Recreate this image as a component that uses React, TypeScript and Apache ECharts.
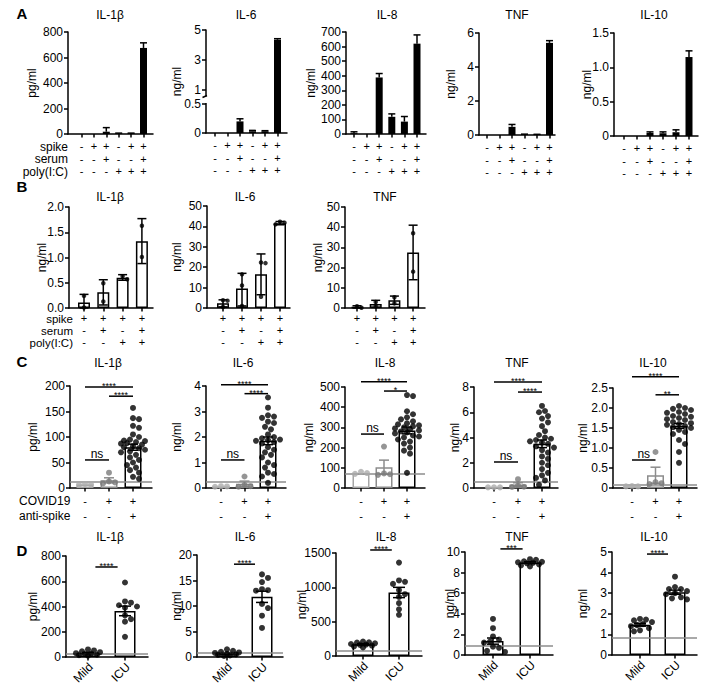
import React, { useEffect, useRef } from 'react';
import * as echarts from 'echarts';

const FONT = '"Liberation Sans", Arial, Helvetica, sans-serif';
const BLACK = '#000000';

// ---------------- Row A data ----------------
const A_TITLES = ['IL-1β', 'IL-6', 'IL-8', 'TNF', 'IL-10'];
const A_UNITS = ['pg/ml', 'ng/ml', 'ng/ml', 'ng/ml', 'ng/ml'];
const A_ROW_LABELS = ['spike', 'serum', 'poly(I:C)'];
const A_SPIKE = ['-', '+', '+', '-', '+', '+'];
const A_SERUM = ['-', '-', '+', '-', '-', '+'];
const A_POLY = ['-', '-', '-', '+', '+', '+'];
const A_IL1B = [0, 0, 18, 3, 3, 675];
const A_IL1B_ERR = [0, 0, 50, 7, 7, 715];
const A_IL6 = [0, 0, 0.2, 0.03, 0.03, 4.35];
const A_IL6_ERR = [0, 0, 0.245, 0.045, 0.04, 4.42];
const A_IL8 = [5, 0, 388, 118, 85, 620];
const A_IL8_ERR = [15, 0, 415, 138, 120, 680];
const A_TNF = [0, 0, 0.48, 0.04, 0.03, 5.42];
const A_TNF_ERR = [0, 0, 0.62, 0.05, 0.04, 5.55];
const A_IL10 = [0, 0, 0.045, 0.04, 0.055, 1.15];
const A_IL10_ERR = [0, 0, 0.06, 0.06, 0.09, 1.24];
const A_YMAX = [800, 5, 700, 6, 1.5];
const A_YSTEP = [200, 2, 100, 2, 0.5];
const A_IL6_TICKS = [0, 0.5, 1, 3, 5];

// ---------------- Row B data ----------------
const B_TITLES = ['IL-1β', 'IL-6', 'TNF'];
const B_UNITS = ['ng/ml', 'ng/ml', 'ng/ml'];
const B_ROW_LABELS = ['spike', 'serum', 'poly(I:C)'];
const B_SPIKE = ['+', '+', '+', '+'];
const B_SERUM = ['-', '+', '-', '+'];
const B_POLY = ['-', '-', '+', '+'];
const B_IL1B = [0.11, 0.31, 0.6, 1.32];
const B_IL1B_LO = [0, 0.06, 0.55, 0.88];
const B_IL1B_HI = [0.27, 0.56, 0.66, 1.77];
const B_IL1B_PTS = [[0.24, 0.01], [0.49, 0.13], [0.63, 0.57], [1.63, 1.01]];
const B_IL6 = [2.3, 9.5, 16.5, 41.5];
const B_IL6_LO = [0.5, 1.0, 6.5, 40.8];
const B_IL6_HI = [4.0, 17.0, 26.5, 42.4];
const B_IL6_PTS = [[3.8, 3.6, 0.5], [16.5, 11, 1], [22, 22.3, 5.5], [42.3, 41.8, 41]];
const B_TNF = [0.5, 2.0, 3.8, 27.5];
const B_TNF_LO = [0, 0.3, 1.8, 14];
const B_TNF_HI = [1.1, 3.8, 5.9, 41];
const B_TNF_PTS = [[0.9, 0.1], [3.0, 0.9], [5.3, 2.3], [37, 18]];
const B_YMAX = [2, 50, 50];
const B_YSTEP = [0.5, 10, 10];

// ---------------- Row C data ----------------
const C_TITLES = ['IL-1β', 'IL-6', 'IL-8', 'TNF', 'IL-10'];
const C_UNITS = ['pg/ml', 'ng/ml', 'ng/ml', 'ng/ml', 'ng/ml'];
const C_ROW_LABELS = ['COVID19', 'anti-spike'];
const C_COVID = ['-', '+', '+'];
const C_ANTISPIKE = ['-', '-', '+'];
const C_PAIRS = [[0, 2], [1, 2], [0, 1]];
const C_YMAX = [200, 4, 500, 8, 2.5];
const C_YSTEP = [50, 1, 100, 2, 0.5];

const C_IL1B_PTS = [
  [6, 7, 8],
  [30, 13, 11, 9],
  [157, 137, 135, 122, 118, 105, 100, 95, 93, 92, 90, 88, 87, 85, 82, 80, 78, 75, 72, 70, 65, 60, 55, 50, 45, 40, 35, 30, 22, 18],
];
const C_IL1B_MEAN = [7, 15, 80];
const C_IL1B_SEM = [0, 5, 6];
const C_IL1B_LIMIT = 12;
const C_IL1B_SIG = ['****', '****', 'ns'];
const C_IL1B_SIG_Y = [198, 180, 55];

const C_IL6_PTS = [
  [0.05, 0.06, 0.07],
  [0.45, 0.12, 0.07, 0.05],
  [3.55, 3.15, 2.85, 2.8, 2.75, 2.6, 2.55, 2.4, 2.3, 2.1, 2.0, 1.95, 1.9, 1.88, 1.85, 1.8, 1.75, 1.6, 1.5, 1.4, 1.3, 1.2, 1.0, 0.9, 0.8, 0.6, 0.55, 0.45, 0.2],
];
const C_IL6_MEAN = [0.06, 0.17, 1.85];
const C_IL6_SEM = [0, 0.1, 0.15];
const C_IL6_LIMIT = 0.23;
const C_IL6_SIG = ['****', '****', 'ns'];
const C_IL6_SIG_Y = [4.05, 3.7, 1.1];

const C_IL8_PTS = [
  [80, 74, 70],
  [205, 68, 65, 72],
  [460, 455, 380, 365, 350, 340, 330, 320, 315, 310, 305, 300, 295, 290, 285, 280, 275, 270, 260, 255, 250, 240, 230, 220, 200, 185, 170, 75],
];
const C_IL8_MEAN = [73, 103, 285];
const C_IL8_SEM = [0, 35, 17];
const C_IL8_LIMIT = 72;
const C_IL8_SIG = ['****', '*', 'ns'];
const C_IL8_SIG_Y = [526, 480, 267];

const C_TNF_PTS = [
  [0.05, 0.05, 0.06],
  [0.7, 0.2, 0.1, 0.08],
  [6.5, 6.1, 6.0, 5.7, 5.5, 5.2, 4.9, 4.5, 4.2, 4.0, 3.9, 3.8, 3.7, 3.6, 3.5, 3.3, 3.2, 3.0, 2.8, 2.5, 2.3, 2.0, 1.8, 1.5, 1.2, 1.0, 0.8, 0.6, 0.25],
];
const C_TNF_MEAN = [0.05, 0.27, 3.5];
const C_TNF_SEM = [0, 0.15, 0.3];
const C_TNF_LIMIT = 0.47;
const C_TNF_SIG = ['****', '****', 'ns'];
const C_TNF_SIG_Y = [8.4, 7.6, 2.06];

const C_IL10_PTS = [
  [0.04, 0.04, 0.05],
  [0.9, 0.15, 0.12, 0.1],
  [2.05, 2.0, 1.98, 1.95, 1.9, 1.88, 1.85, 1.8, 1.78, 1.75, 1.72, 1.7, 1.65, 1.62, 1.6, 1.58, 1.55, 1.52, 1.5, 1.45, 1.4, 1.35, 1.2, 1.1, 0.9, 0.63],
];
const C_IL10_MEAN = [0.04, 0.32, 1.55];
const C_IL10_SEM = [0, 0.2, 0.06];
const C_IL10_LIMIT = 0.07;
const C_IL10_SIG = ['****', '**', 'ns'];
const C_IL10_SIG_Y = [2.78, 2.33, 0.7];

// ---------------- Row D data ----------------
const D_TITLES = ['IL-1β', 'IL-6', 'IL-8', 'TNF', 'IL-10'];
const D_UNITS = ['pg/ml', 'ng/ml', 'ng/ml', 'ng/ml', 'ng/ml'];
const D_GROUPS = ['Mild', 'ICU'];
const D_YMAX = [800, 20, 1500, 10, 5];
const D_YSTEP = [200, 5, 500, 2, 1];

const D_IL1B_PTS = [[60, 52, 45, 38, 30, 25, 22, 18, 15, 10], [590, 440, 430, 410, 400, 390, 330, 300, 280, 160]];
const D_IL1B_MEAN = [31, 365];
const D_IL1B_SEM = [5, 38];
const D_IL1B_LIMIT = 25;
const D_IL1B_SIG = '****';
const D_IL1B_SIG_Y = 713;

const D_IL6_PTS = [[1.5, 1.2, 1.0, 0.9, 0.8, 0.6, 0.5, 0.4, 0.3, 0.2], [16.2, 15.5, 14.7, 13.3, 13.1, 13.0, 10.4, 9.6, 8.1, 5.7]];
const D_IL6_MEAN = [0.74, 11.8];
const D_IL6_SEM = [0.13, 1.1];
const D_IL6_LIMIT = 0.8;
const D_IL6_SIG = '****';
const D_IL6_SIG_Y = 18.2;

const D_IL8_PTS = [[210, 200, 195, 185, 175, 165, 160, 150, 140, 125], [1360, 1100, 1080, 1050, 960, 900, 860, 770, 680, 600]];
const D_IL8_MEAN = [170, 925];
const D_IL8_SEM = [9, 75];
const D_IL8_LIMIT = 80;
const D_IL8_SIG = '****';
const D_IL8_SIG_Y = 1544;

const D_TNF_PTS = [[3.5, 2.6, 1.8, 1.5, 1.3, 1.2, 0.8, 0.7, 0.4, 0.3], [9.3, 9.25, 9.1, 9.05, 9.0, 8.95, 8.9, 8.8, 8.7, 8.6]];
const D_TNF_MEAN = [1.35, 8.97];
const D_TNF_SEM = [0.3, 0.08];
const D_TNF_LIMIT = 0.9;
const D_TNF_SIG = '***';
const D_TNF_SIG_Y = 10.3;

const D_IL10_PTS = [[1.75, 1.72, 1.68, 1.6, 1.5, 1.45, 1.4, 1.3, 1.2, 1.15], [3.8, 3.3, 3.2, 3.2, 3.1, 3.0, 2.95, 2.8, 2.75, 2.7]];
const D_IL10_MEAN = [1.47, 3.05];
const D_IL10_SEM = [0.07, 0.1];
const D_IL10_LIMIT = 0.85;
const D_IL10_SIG = '****';
const D_IL10_SIG_Y = 4.9;

// ---------------- Layout (pixels) ----------------
const LAYOUT_A = [
  { left: 68, right: 153, top: 32, bottom: 134, p0: 81.5, step: 12.4, titleX: 110, nameX: 32 },
  { left: 206, right: 287, top: 30, bottom: 133, p0: 215, step: 12.5, titleX: 246, nameX: 177 },
  { left: 346, right: 426, top: 32, bottom: 134, p0: 354, step: 12.6, titleX: 387, nameX: 311 },
  { left: 479, right: 555, top: 33, bottom: 135, p0: 487, step: 12.5, titleX: 517, nameX: 451 },
  { left: 614, right: 698, top: 33, bottom: 136, p0: 624, step: 13, titleX: 654, nameX: 587 },
];
const LAYOUT_B = [
  { left: 69, right: 153, top: 207, bottom: 308, p0: 84, step: 19.3, titleX: 110, nameX: 42 },
  { left: 207, right: 290, top: 206, bottom: 308, p0: 223, step: 19, titleX: 245, nameX: 177 },
  { left: 345, right: 425, top: 207, bottom: 308, p0: 357, step: 18.7, titleX: 385, nameX: 318 },
];
const LAYOUT_C = [
  { left: 70, right: 152, top: 386, bottom: 488, p0: 85, step: 24, titleX: 108, nameX: 33 },
  { left: 206, right: 286, top: 386, bottom: 488, p0: 221, step: 23.5, titleX: 243, nameX: 177 },
  { left: 345, right: 425, top: 387, bottom: 488, p0: 361, step: 23, titleX: 385, nameX: 309 },
  { left: 474, right: 558, top: 387, bottom: 488, p0: 494, step: 24, titleX: 517, nameX: 455 },
  { left: 613, right: 697, top: 388, bottom: 488, p0: 632, step: 23.5, titleX: 653, nameX: 583 },
];
const LAYOUT_D = [
  { left: 66, right: 148, top: 556, bottom: 657, p0: 88, step: 37, titleX: 110, nameX: 33 },
  { left: 197, right: 283, top: 555, bottom: 657, p0: 227, step: 35, titleX: 245, nameX: 177 },
  { left: 336, right: 422, top: 553, bottom: 656, p0: 363, step: 36, titleX: 386, nameX: 302 },
  { left: 465, right: 553, top: 552, bottom: 655, p0: 493, step: 37, titleX: 517, nameX: 450 },
  { left: 612, right: 697, top: 552, bottom: 655, p0: 640, step: 35, titleX: 654, nameX: 583 },
];
const TITLE_Y = { A: 15, B: 197, C: 363, D: 537 };
const TABLE_FONT = 11;

// broken axis mapping for IL-6 (row A): pixels above the x axis
const brokenT = (v: number) => (v <= 0.5 ? v * 58 : v < 1 ? 29 + (v - 0.5) * 28 : 43 + (v - 1) * 15);

function swarm(vals: number[], pyu: number, pxu: number, d: number, maxOff: number): number[] {
  const order = vals.map((_, k) => k).sort((a, b) => vals[b] - vals[a]);
  const placed: { x: number; y: number }[] = [];
  const off = new Array(vals.length).fill(0);
  const cands: number[] = [0];
  for (let k = 1; k * d * 0.5 <= maxOff + 1e-9; k++) cands.push(k * d * 0.5, -k * d * 0.5);
  order.forEach((idx) => {
    const y = vals[idx] * pyu;
    let best = 0;
    let bestScore = -Infinity;
    for (const c of cands) {
      let minD = Infinity;
      for (const p of placed) minD = Math.min(minD, Math.hypot(p.x - c, p.y - y));
      if (minD >= d * 0.9) { best = c; break; }
      if (minD > bestScore) { bestScore = minD; best = c; }
    }
    placed.push({ x: best, y });
    off[idx] = best / pxu;
  });
  return off;
}

const txt = (s: string, x: number, y: number, size = 12, align = 'center', weight = 'normal', rotation = 0) => ({
  type: 'text', x, y, rotation, silent: true,
  style: { text: s, fill: BLACK, font: `${weight} ${size}px ${FONT}`, align, verticalAlign: 'middle' },
});

const plainNum = (v: number) => String(v);

function buildOption() {
  const grid: any[] = [];
  const xAxis: any[] = [];
  const yAxis: any[] = [];
  const series: any[] = [];
  const graphic: any[] = [];

  const addAxes = (L: any, n: number, yMax: number, yStep: number, unit: string, title: string, titleY: number,
    xFmt: (k: number) => string, xLab: any, yFmt: (v: number) => string = plainNum) => {
    const i = grid.length;
    grid.push({ left: L.left, top: L.top, width: L.right - L.left, height: L.bottom - L.top, containLabel: false, outerBoundsMode: 'none' });
    const last = L.p0 + (n - 1) * L.step;
    const ticks = Array.from({ length: n }, (_, k) => k);
    const xMin = -(L.p0 - L.left) / L.step;
    xAxis.push({
      type: 'value', gridIndex: i, min: xMin, max: n - 1 + (L.right - last) / L.step,
      axisLine: { show: true, onZero: false, lineStyle: { color: BLACK, width: 1.5 } },
      axisTick: { show: true, customValues: ticks, length: 3.5, lineStyle: { color: BLACK, width: 1.5 } },
      axisLabel: { show: true, customValues: ticks, color: BLACK, fontFamily: FONT, fontSize: TABLE_FONT, formatter: (v: number) => xFmt(Math.round(v)), ...xLab },
      splitLine: { show: false },
    });
    yAxis.push({
      type: 'value', gridIndex: i, min: 0, max: yMax, interval: yStep,
      axisLine: { show: true, onZero: false, lineStyle: { color: BLACK, width: 1.5 } },
      axisTick: { show: true, length: 4, lineStyle: { color: BLACK, width: 1.5 } },
      axisLabel: { color: BLACK, fontFamily: FONT, fontSize: 12, margin: 5, formatter: yFmt },
      splitLine: { show: false },
    });
    graphic.push(txt(title, L.titleX, titleY, 12));
    graphic.push(txt(unit, L.nameX, (L.top + L.bottom) / 2, 12, 'center', 'normal', Math.PI / 2));
    return { i, xMin };
  };

  const errSeries = (i: number, items: number[][], colors: string[], capHalf: number, lowCap: boolean, extra: any = {}) => ({
    type: 'custom', xAxisIndex: i, yAxisIndex: i, silent: true, z: 4, data: items,
    renderItem: (params: any, api: any) => {
      const x = api.value(0);
      const a = api.coord([x, api.value(1)]);
      const b = api.coord([x, api.value(2)]);
      const st = { stroke: colors[params.dataIndex] || BLACK, lineWidth: 1.5 };
      const ch: any[] = [
        { type: 'line', shape: { x1: a[0], y1: a[1], x2: b[0], y2: b[1] }, style: st },
        { type: 'line', shape: { x1: b[0] - capHalf, y1: b[1], x2: b[0] + capHalf, y2: b[1] }, style: st },
      ];
      if (lowCap) ch.push({ type: 'line', shape: { x1: a[0] - capHalf, y1: a[1], x2: a[0] + capHalf, y2: a[1] }, style: st });
      return { type: 'group', children: ch };
    },
    ...extra,
  });

  const limitLine = (v: number) => ({
    silent: true, symbol: 'none', label: { show: false },
    lineStyle: { color: '#8c8c8c', width: 1.5, type: 'solid' },
    data: [{ yAxis: v }],
  });

  const bracketSeries = (i: number, items: number[][], labels: string[]) => ({
    type: 'custom', xAxisIndex: i, yAxisIndex: i, silent: true, z: 6, data: items,
    renderItem: (params: any, api: any) => {
      const y = api.value(2);
      const a = api.coord([api.value(0), y]);
      const b = api.coord([api.value(1), y]);
      const lab = labels[params.dataIndex];
      const ns = lab === 'ns';
      return {
        type: 'group',
        children: [
          { type: 'line', shape: { x1: a[0], y1: a[1], x2: b[0], y2: b[1] }, style: { stroke: BLACK, lineWidth: 1.5 } },
          { type: 'text', x: (a[0] + b[0]) / 2, y: a[1] - (ns ? 6 : 1), style: { text: lab, fill: BLACK, font: `normal ${ns ? 12 : 9}px ${FONT}`, align: 'center', verticalAlign: 'middle' } },
        ],
      };
    },
  });

  // ---------- Row A ----------
  const aMeans = [A_IL1B, A_IL6, A_IL8, A_TNF, A_IL10];
  const aErrs = [A_IL1B_ERR, A_IL6_ERR, A_IL8_ERR, A_TNF_ERR, A_IL10_ERR];
  const aFmt = (k: number) => [A_SPIKE[k], A_SERUM[k], A_POLY[k]].join('\n');
  for (let p = 0; p < 5; p++) {
    const L = LAYOUT_A[p];
    const broken = p === 1;
    const tf = broken ? brokenT : (v: number) => v;
    const yFmt = p === 4 ? (v: number) => (v === 0 ? '0' : v.toFixed(1)) : undefined;
    const { i, xMin } = addAxes(L, 6, A_YMAX[p], A_YSTEP[p], A_UNITS[p], A_TITLES[p], TITLE_Y.A, aFmt, { lineHeight: 12.5, margin: 6 }, yFmt);
    if (broken) {
      const ya = yAxis[i];
      const tv = A_IL6_TICKS.map(brokenT);
      delete ya.interval;
      ya.max = brokenT(A_YMAX[1]);
      ya.axisTick = { ...ya.axisTick, customValues: tv };
      ya.axisLabel = { ...ya.axisLabel, customValues: tv, formatter: (v: number) => { const j = tv.findIndex((t) => Math.abs(t - v) < 0.01); return j >= 0 ? String(A_IL6_TICKS[j]) : ''; } };
      series.push({
        type: 'custom', xAxisIndex: i, yAxisIndex: i, silent: true, z: 3, data: [[xMin, 30, 36.5]],
        renderItem: (_p: any, api: any) => {
          const a = api.coord([api.value(0), api.value(1)]);
          const b = api.coord([api.value(0), api.value(2)]);
          return {
            type: 'group', children: [
              { type: 'rect', shape: { x: a[0] - 3, y: b[1], width: 6, height: a[1] - b[1] }, style: { fill: '#fff' } },
              { type: 'line', shape: { x1: b[0] - 3.5, y1: b[1] + 1, x2: b[0] + 1, y2: b[1] - 1 }, style: { stroke: BLACK, lineWidth: 1.5 } },
            ],
          };
        },
      });
    }
    const means = aMeans[p];
    const errs = aErrs[p];
    series.push({ type: 'bar', xAxisIndex: i, yAxisIndex: i, barWidth: 7, silent: true, itemStyle: { color: BLACK }, data: means.map((v, k) => [k, tf(v)]) });
    const items = means.map((v, k) => [k, tf(v), tf(errs[k])]).filter((it) => it[2] > it[1] + 1e-9);
    series.push(errSeries(i, items, items.map(() => BLACK), 3.5, false));
  }
  graphic.push(txt('A', 22, 13, 15, 'center', 'bold'));
  A_ROW_LABELS.forEach((s, r) => graphic.push(txt(s, 68, LAYOUT_A[0].bottom + 12.5 + r * 12.5, TABLE_FONT + 1, 'right')));

  // ---------- Row B ----------
  const bMeans = [B_IL1B, B_IL6, B_TNF];
  const bLo = [B_IL1B_LO, B_IL6_LO, B_TNF_LO];
  const bHi = [B_IL1B_HI, B_IL6_HI, B_TNF_HI];
  const bPts = [B_IL1B_PTS, B_IL6_PTS, B_TNF_PTS];
  const bFmt = (k: number) => [B_SPIKE[k], B_SERUM[k], B_POLY[k]].join('\n');
  for (let p = 0; p < 3; p++) {
    const L = LAYOUT_B[p];
    const yFmt = p === 0 ? (v: number) => v.toFixed(1) : undefined;
    const { i } = addAxes(L, 4, B_YMAX[p], B_YSTEP[p], B_UNITS[p], B_TITLES[p], TITLE_Y.B, bFmt, { lineHeight: 12, margin: 4 }, yFmt);
    const pyu = (L.bottom - L.top) / B_YMAX[p];
    series.push({
      type: 'bar', xAxisIndex: i, yAxisIndex: i, barWidth: 12, silent: true,
      itemStyle: { color: '#fff', borderColor: BLACK, borderWidth: 1.5 },
      data: bMeans[p].map((v, k) => [k, v]),
    });
    const items = bMeans[p].map((_, k) => [k, bLo[p][k], bHi[p][k]]);
    series.push(errSeries(i, items, items.map(() => BLACK), 4.5, true));
    const dots: any[] = [];
    bPts[p].forEach((pts, k) => {
      const off = swarm(pts, pyu, L.step, 4.5, 4.5);
      pts.forEach((v, j) => dots.push([k + off[j], v]));
    });
    series.push({ type: 'scatter', xAxisIndex: i, yAxisIndex: i, symbol: 'circle', symbolSize: 4.5, silent: true, z: 5, itemStyle: { color: BLACK }, data: dots });
  }
  graphic.push(txt('B', 22, 186, 15, 'center', 'bold'));
  B_ROW_LABELS.forEach((s, r) => graphic.push(txt(s, 73, LAYOUT_B[0].bottom + 10.5 + r * 12, TABLE_FONT + 0.5, 'right')));

  // ---------- Row C ----------
  const cSets = [
    { pts: C_IL1B_PTS, mean: C_IL1B_MEAN, sem: C_IL1B_SEM, limit: C_IL1B_LIMIT, sig: C_IL1B_SIG, sigY: C_IL1B_SIG_Y },
    { pts: C_IL6_PTS, mean: C_IL6_MEAN, sem: C_IL6_SEM, limit: C_IL6_LIMIT, sig: C_IL6_SIG, sigY: C_IL6_SIG_Y },
    { pts: C_IL8_PTS, mean: C_IL8_MEAN, sem: C_IL8_SEM, limit: C_IL8_LIMIT, sig: C_IL8_SIG, sigY: C_IL8_SIG_Y },
    { pts: C_TNF_PTS, mean: C_TNF_MEAN, sem: C_TNF_SEM, limit: C_TNF_LIMIT, sig: C_TNF_SIG, sigY: C_TNF_SIG_Y },
    { pts: C_IL10_PTS, mean: C_IL10_MEAN, sem: C_IL10_SEM, limit: C_IL10_LIMIT, sig: C_IL10_SIG, sigY: C_IL10_SIG_Y },
  ];
  const cBarColors = ['#a6a6a6', '#8c8c8c', BLACK];
  const cDotColors = ['#ababab', '#7a7a7a', BLACK];
  const cFmt = (k: number) => [C_COVID[k], C_ANTISPIKE[k]].join('\n');
  for (let p = 0; p < 5; p++) {
    const L = LAYOUT_C[p];
    const S = cSets[p];
    const yFmt = p === 4 ? (v: number) => (v === 0 ? '0' : v.toFixed(1)) : undefined;
    const { i } = addAxes(L, 3, C_YMAX[p], C_YSTEP[p], C_UNITS[p], C_TITLES[p], TITLE_Y.C, cFmt, { lineHeight: 15, margin: 5 }, yFmt);
    const pyu = (L.bottom - L.top) / C_YMAX[p];
    series.push({
      type: 'bar', xAxisIndex: i, yAxisIndex: i, barWidth: 17, silent: true,
      data: S.mean.map((v, k) => ({ value: [k, v], itemStyle: { color: '#fff', borderColor: cBarColors[k], borderWidth: 1.5 } })),
    });
    const idx = S.sem.map((s, k) => k).filter((k) => S.sem[k] > 0);
    const items = idx.map((k) => [k, S.mean[k] - S.sem[k], S.mean[k] + S.sem[k]]);
    series.push(errSeries(i, items, idx.map((k) => cBarColors[k]), 5, true, { markLine: limitLine(S.limit) }));
    const dots: any[] = [];
    S.pts.forEach((pts, k) => {
      const off = swarm(pts, pyu, L.step, 6, 13);
      pts.forEach((v, j) => dots.push({ value: [k + off[j], v], itemStyle: { color: cDotColors[k] } }));
    });
    series.push({ type: 'scatter', xAxisIndex: i, yAxisIndex: i, symbol: 'circle', symbolSize: 6, silent: true, z: 5, data: dots });
    series.push(bracketSeries(i, C_PAIRS.map((pr, j) => [pr[0], pr[1], S.sigY[j]]), S.sig));
  }
  graphic.push(txt('C', 22, 361, 15, 'center', 'bold'));
  C_ROW_LABELS.forEach((s, r) => graphic.push(txt(s, 19, LAYOUT_C[0].bottom + 13 + r * 15, 12, 'left')));

  // ---------- Row D ----------
  const dSets = [
    { pts: D_IL1B_PTS, mean: D_IL1B_MEAN, sem: D_IL1B_SEM, limit: D_IL1B_LIMIT, sig: D_IL1B_SIG, sigY: D_IL1B_SIG_Y },
    { pts: D_IL6_PTS, mean: D_IL6_MEAN, sem: D_IL6_SEM, limit: D_IL6_LIMIT, sig: D_IL6_SIG, sigY: D_IL6_SIG_Y },
    { pts: D_IL8_PTS, mean: D_IL8_MEAN, sem: D_IL8_SEM, limit: D_IL8_LIMIT, sig: D_IL8_SIG, sigY: D_IL8_SIG_Y },
    { pts: D_TNF_PTS, mean: D_TNF_MEAN, sem: D_TNF_SEM, limit: D_TNF_LIMIT, sig: D_TNF_SIG, sigY: D_TNF_SIG_Y },
    { pts: D_IL10_PTS, mean: D_IL10_MEAN, sem: D_IL10_SEM, limit: D_IL10_LIMIT, sig: D_IL10_SIG, sigY: D_IL10_SIG_Y },
  ];
  for (let p = 0; p < 5; p++) {
    const L = LAYOUT_D[p];
    const S = dSets[p];
    const { i } = addAxes(L, 2, D_YMAX[p], D_YSTEP[p], D_UNITS[p], D_TITLES[p], TITLE_Y.D, () => '', { show: false });
    // rotated group labels below the ticks
    D_GROUPS.forEach((g, k) => graphic.push(txt(g, L.p0 + k * L.step + 3, L.bottom + 8, 12, 'right', 'normal', Math.PI / 4)));
    const pyu = (L.bottom - L.top) / D_YMAX[p];
    series.push({
      type: 'bar', xAxisIndex: i, yAxisIndex: i, barWidth: 21, silent: true,
      itemStyle: { color: '#fff', borderColor: BLACK, borderWidth: 1.5 },
      data: S.mean.map((v, k) => [k, v]),
    });
    const items = S.mean.map((v, k) => [k, v - S.sem[k], v + S.sem[k]]);
    series.push(errSeries(i, items, items.map(() => BLACK), 6, true, { markLine: limitLine(S.limit) }));
    const dots: any[] = [];
    S.pts.forEach((pts, k) => {
      const off = swarm(pts, pyu, L.step, 6, 12);
      pts.forEach((v, j) => dots.push([k + off[j], v]));
    });
    series.push({ type: 'scatter', xAxisIndex: i, yAxisIndex: i, symbol: 'circle', symbolSize: 6, silent: true, z: 5, itemStyle: { color: BLACK }, data: dots });
    series.push(bracketSeries(i, [[0.2, 0.8, S.sigY]], [S.sig]));
  }
  graphic.push(txt('D', 22, 550, 15, 'center', 'bold'));

  return {
    animation: false,
    backgroundColor: '#ffffff',
    textStyle: { fontFamily: FONT },
    grid, xAxis, yAxis, series,
    graphic: { elements: graphic },
  };
}

export default function App() {
  const ref = useRef<HTMLDivElement>(null);
  useEffect(() => {
    if (!ref.current) return;
    const chart = echarts.init(ref.current, null, { renderer: 'svg', width: 716, height: 699 });
    chart.setOption(buildOption() as any);
    return () => chart.dispose();
  }, []);
  return <div ref={ref} style={{ position: 'fixed', left: 0, top: 0, width: 716, height: 699, background: '#fff' }} />;
}
